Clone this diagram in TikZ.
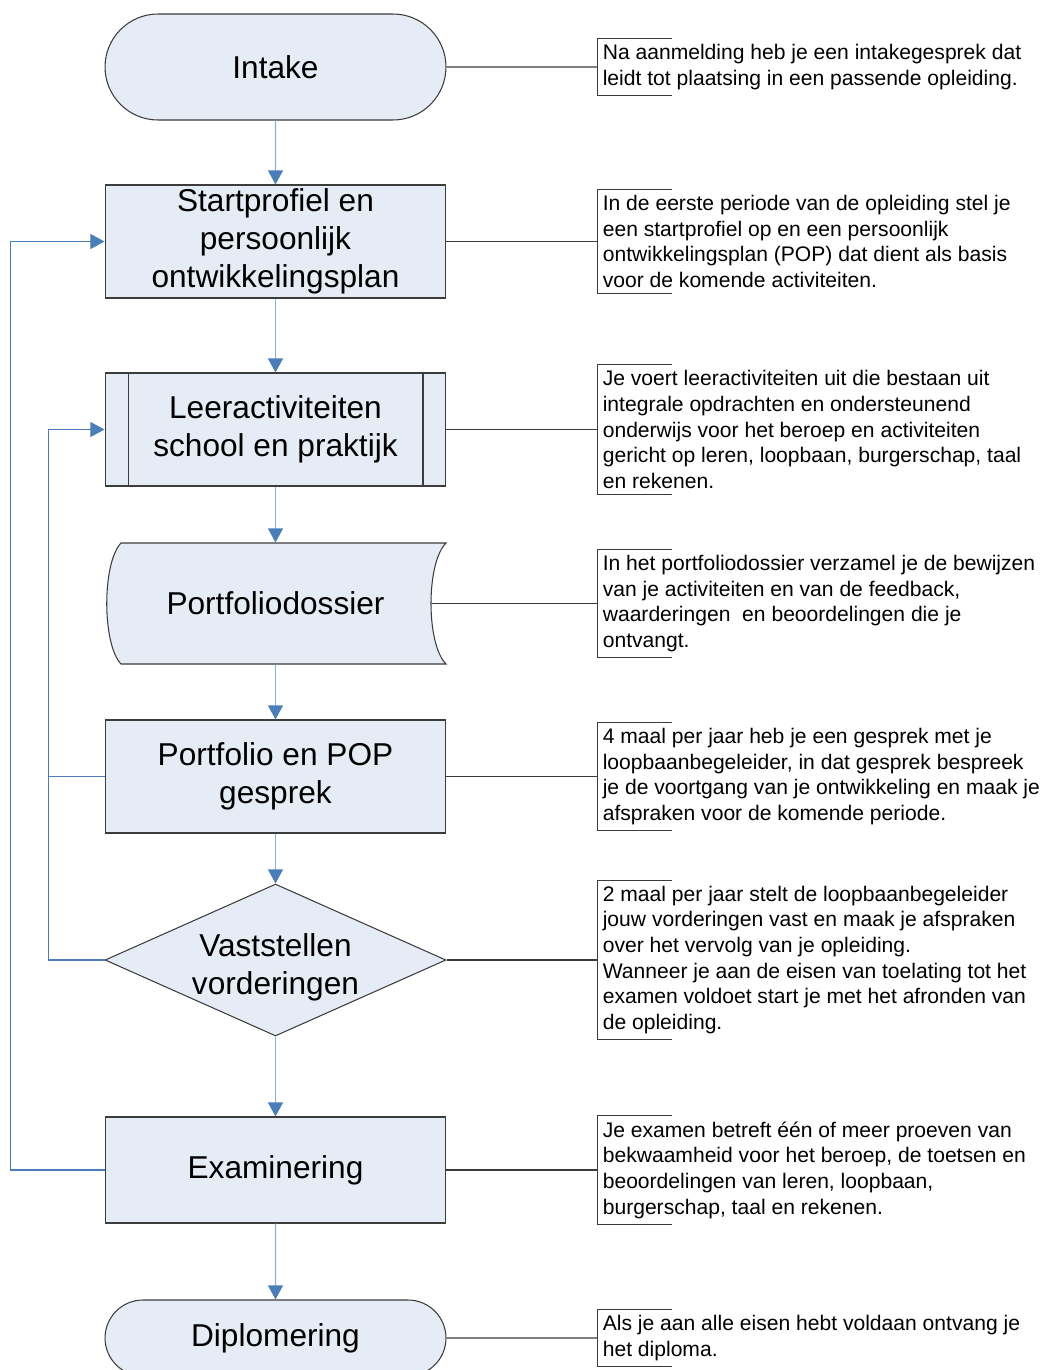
\documentclass[tikz,border=0pt]{standalone}
\usepackage{fontspec}
\setmainfont{Liberation Sans}
\usetikzlibrary{shapes.geometric,shapes.misc,arrows.meta,positioning}

\definecolor{boxfill}{RGB}{230,236,246}
\definecolor{boxline}{RGB}{60,60,60}
\definecolor{flowblue}{RGB}{74,126,187}
\definecolor{lightflow}{RGB}{140,176,222}

\tikzset{
  box/.style={draw=boxline,fill=boxfill,line width=0.6pt,minimum width=6.82cm,
    minimum height=2.26cm,inner sep=0pt,align=center,font=\fontsize{18}{21.8}\selectfont},
  term/.style={box,rounded rectangle,minimum height=2.12cm},
  predef/.style={box,path picture={
    \draw[boxline,line width=0.6pt]
      ([xshift=0.46cm]path picture bounding box.north west) -- ([xshift=0.46cm]path picture bounding box.south west)
      ([xshift=-0.46cm]path picture bounding box.north east) -- ([xshift=-0.46cm]path picture bounding box.south east);}},
  decision/.style={box,diamond,minimum height=3.04cm},
  stored/.style={box,draw=none,fill=none,minimum height=2.42cm},
  note/.style={align=left,inner xsep=0.1cm,inner ysep=3pt,font=\fontsize{12}{14.6}\selectfont},
  flow/.style={draw=flowblue,line width=0.6pt,->},
  down/.style={draw=lightflow,line width=0.7pt,-{Triangle[width=8.5pt,length=8pt,color=flowblue]}},
  link/.style={draw=boxline,line width=0.6pt},
}

\begin{document}
\begin{tikzpicture}[x=0.02cm,y=-0.02cm,>={Triangle[width=8.5pt,length=8pt]},node distance=3.02cm]
\useasboundingbox (0,0) rectangle (1047,1370);

% stored data shape
\filldraw[draw=boxline,fill=boxfill,line width=0.6pt]
  (121,543) .. controls (102,563) and (102,644) .. (121,664) -- (446,664)
  .. controls (426,644) and (426,563) .. (446,543) -- cycle;

\node[term] (1) at (275.5,67) {Intake};
\node[box] (2) at (275.5,241.5) {Startprofiel en\\persoonlijk\\ontwikkelingsplan};
\node[predef] (3) at (275.5,429.5) {Leeractiviteiten\\school en praktijk};
\node[stored] (4) at (275.5,603.5) {Portfoliodossier};
\node[box] (5) at (275.5,776.5) {Portfolio en POP\\gesprek};
\node[decision,label={[yshift=-0.15cm,align=center,font=\fontsize{18}{21.8}\selectfont]center:Vaststellen\\vorderingen}] (6) at (275.5,960) {};
\node[box,minimum height=2.12cm] (7) at (275.5,1170) {Examinering};
\node[term,minimum height=1.52cm] (8) at (275.5,1338) {Diplomering};

\node[note,right=of 1] (n1) {Na aanmelding heb je een intakegesprek dat\\leidt tot plaatsing in een passende opleiding.};
\node[note,right=of 2] (n2) {In de eerste periode van de opleiding stel je\\een startprofiel op en een persoonlijk\\ontwikkelingsplan (POP) dat dient als basis\\voor de komende activiteiten.};
\node[note,right=of 3] (n3) {Je voert leeractiviteiten uit die bestaan uit\\integrale opdrachten en ondersteunend\\onderwijs voor het beroep en activiteiten\\gericht op leren, loopbaan, burgerschap, taal\\en rekenen.};
\node[note,right=of 4] (n4) {In het portfoliodossier verzamel je de bewijzen\\van je activiteiten en van de feedback,\\waarderingen\ \ en beoordelingen die je\\ontvangt.};
\node[note,right=of 5] (n5) {4 maal per jaar heb je een gesprek met je\\loopbaanbegeleider, in dat gesprek bespreek\\je de voortgang van je ontwikkeling en maak je\\afspraken voor de komende periode.};
\node[note,right=of 6] (n6) {2 maal per jaar stelt de loopbaanbegeleider\\jouw vorderingen vast en maak je afspraken\\over het vervolg van je opleiding.\\Wanneer je aan de eisen van toelating tot het\\examen voldoet start je met het afronden van\\de opleiding.};
\node[note,right=of 7] (n7) {Je examen betreft één of meer proeven van\\bekwaamheid voor het beroep, de toetsen en\\beoordelingen van leren, loopbaan,\\burgerschap, taal en rekenen.};
\node[note,right=of 8] (n8) {Als je aan alle eisen hebt voldaan ontvang je\\het diploma.};

% brackets round the notes
\foreach \n in {1,...,8}
  \draw[link] (n\n.north west) ++(75,0) -- (n\n.north west) -- (n\n.south west) -- ++(75,0);

% main flow
\path (1) edge[down] (2);
\path (2) edge[down] (3);
\path (3) edge[down] (4);
\path (4) edge[down] (5);
\path (5) edge[down] (6);
\path (6) edge[down] (7);
\path (7) edge[down] (8);

% loops back
\draw[flow] (7.west) -- ++(-94,0) |- (2.west);
\draw[flow] (5.west) -- ++(-56,0) |- (3.west);
\draw[flow,-] (6.west) -- ++(-56,0) |- (5.west);

% lines to the notes
\path (1) edge[link] (n1);
\path (2) edge[link] (n2);
\path (3) edge[link] (n3);
\path ([xshift=-0.3cm]4.east) edge[link] (n4);
\path (5) edge[link] (n5);
\path (6) edge[link] (n6);
\path (7) edge[link] (n7);
\path (8) edge[link] (n8);
\end{tikzpicture}
\end{document}
